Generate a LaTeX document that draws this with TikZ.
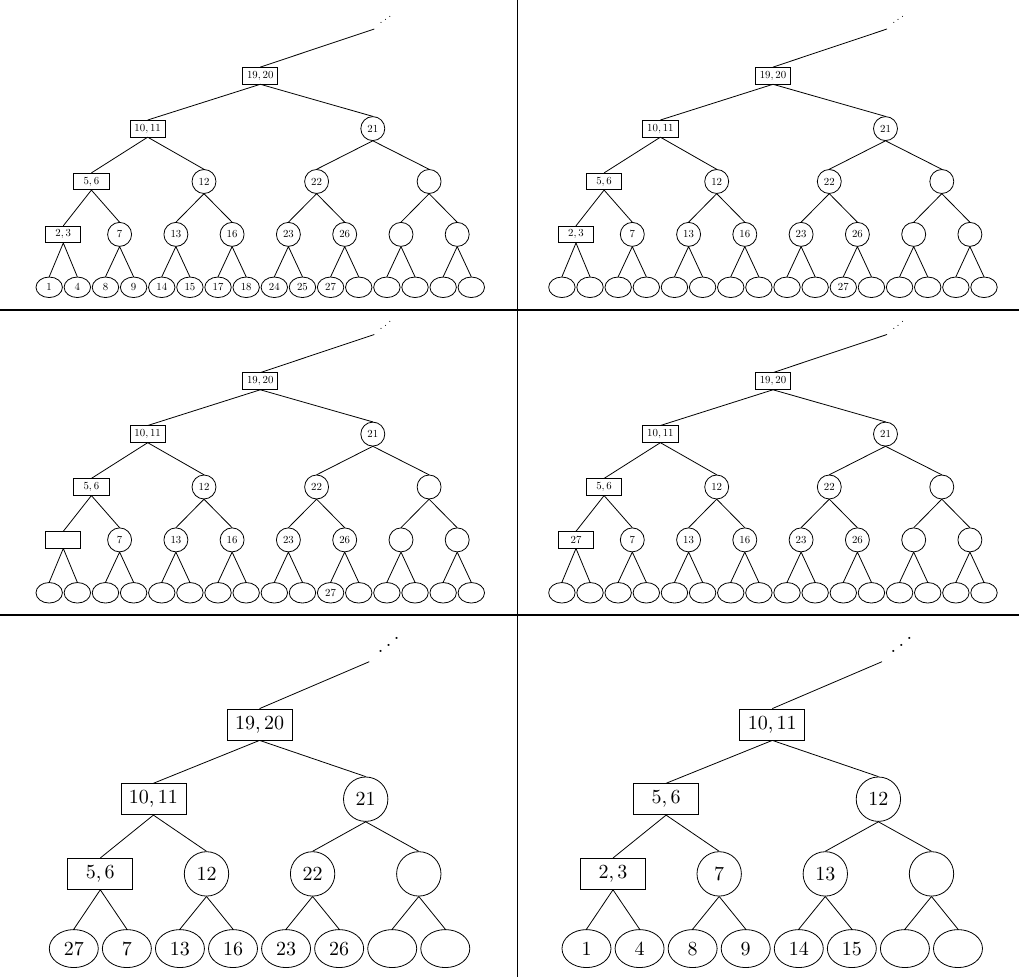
\documentclass[tikz,border=0pt]{standalone}
\usetikzlibrary{shapes.geometric}
\newcommand{\risedots}{.\kern0.12em\raisebox{0.31em}{.}\kern0.12em\raisebox{0.62em}{.}}
\begin{document}
\begin{tikzpicture}[x=0.5pt,y=-0.5pt,
		bbox/.style={draw, rectangle, minimum width=32.5pt, minimum height=15.5pt, inner sep=0pt},
		bcirc/.style={draw, circle, minimum size=22.2pt, inner sep=0pt},
		bleaf/.style={draw, ellipse, minimum width=24.5pt, minimum height=19pt, inner sep=0pt},
		bdots/.style={inner sep=0pt, anchor=base west},
		sbox/.style={bbox, scale=0.54},
		scirc/.style={bcirc, scale=0.54},
		sleaf/.style={bleaf, scale=0.54},
		sdots/.style={bdots, scale=0.54},
		panel/.style={line width=0.6pt}]
		\useasboundingbox (0,0) rectangle (1019,977);
		\draw[panel] (517.3,0) -- (517.3,977);
		\draw[panel] (0,310) -- (1019,310);
		\draw[panel] (0,615) -- (1019,615);

		% top left
		\begin{scope}
		\node[sbox] (tl1) at (260.3,75.7) {19,\,20};
		\node[sbox] (tl2) at (147.7,128.6) {10,\,11};
		\node[scirc] (tl3) at (372.8,128.6) {21};
		\node[sbox] (tl4) at (91.4,181.5) {5,\,6};
		\node[scirc] (tl5) at (204.0,181.5) {12};
		\node[scirc] (tl6) at (316.6,181.5) {22};
		\node[scirc] (tl7) at (429.1,181.5) {};
		\node[sbox] (tl8) at (63.3,234.4) {2,\,3};
		\node[scirc] (tl9) at (119.6,234.4) {7};
		\node[scirc] (tl10) at (175.9,234.4) {13};
		\node[scirc] (tl11) at (232.1,234.4) {16};
		\node[scirc] (tl12) at (288.4,234.4) {23};
		\node[scirc] (tl13) at (344.7,234.4) {26};
		\node[scirc] (tl14) at (401.0,234.4) {};
		\node[scirc] (tl15) at (457.2,234.4) {};
		\foreach \lab [count=\k from 0] in {1,4,8,9,14,15,17,18,24,25,27,{},{},{},{},{}}{
			\pgfmathtruncatemacro\idx{16+\k}
			\node[sleaf] (tl\idx) at ({49.2+28.14*\k},287.3) {\lab};
		}
		\coordinate (tle) at (374.3,29);
		\node[sdots] (tld) at (379.5,23.9) {\risedots};
		\draw (tl1.north) -- (tle);
		\end{scope}

		% top right
		\begin{scope}[shift={(512.7,0)}]
		\node[sbox] (tr1) at (260.3,75.7) {19,\,20};
		\node[sbox] (tr2) at (147.7,128.6) {10,\,11};
		\node[scirc] (tr3) at (372.8,128.6) {21};
		\node[sbox] (tr4) at (91.4,181.5) {5,\,6};
		\node[scirc] (tr5) at (204.0,181.5) {12};
		\node[scirc] (tr6) at (316.6,181.5) {22};
		\node[scirc] (tr7) at (429.1,181.5) {};
		\node[sbox] (tr8) at (63.3,234.4) {2,\,3};
		\node[scirc] (tr9) at (119.6,234.4) {7};
		\node[scirc] (tr10) at (175.9,234.4) {13};
		\node[scirc] (tr11) at (232.1,234.4) {16};
		\node[scirc] (tr12) at (288.4,234.4) {23};
		\node[scirc] (tr13) at (344.7,234.4) {26};
		\node[scirc] (tr14) at (401.0,234.4) {};
		\node[scirc] (tr15) at (457.2,234.4) {};
		\foreach \lab [count=\k from 0] in {{},{},{},{},{},{},{},{},{},{},27,{},{},{},{},{}}{
			\pgfmathtruncatemacro\idx{16+\k}
			\node[sleaf] (tr\idx) at ({49.2+28.14*\k},287.3) {\lab};
		}
		\coordinate (tre) at (374.3,29);
		\node[sdots] (trd) at (379.5,23.9) {\risedots};
		\draw (tr1.north) -- (tre);
		\end{scope}

		% middle left
		\begin{scope}[shift={(0,305.5)}]
		\node[sbox] (ml1) at (260.3,75.7) {19,\,20};
		\node[sbox] (ml2) at (147.7,128.6) {10,\,11};
		\node[scirc] (ml3) at (372.8,128.6) {21};
		\node[sbox] (ml4) at (91.4,181.5) {5,\,6};
		\node[scirc] (ml5) at (204.0,181.5) {12};
		\node[scirc] (ml6) at (316.6,181.5) {22};
		\node[scirc] (ml7) at (429.1,181.5) {};
		\node[sbox] (ml8) at (63.3,234.4) {};
		\node[scirc] (ml9) at (119.6,234.4) {7};
		\node[scirc] (ml10) at (175.9,234.4) {13};
		\node[scirc] (ml11) at (232.1,234.4) {16};
		\node[scirc] (ml12) at (288.4,234.4) {23};
		\node[scirc] (ml13) at (344.7,234.4) {26};
		\node[scirc] (ml14) at (401.0,234.4) {};
		\node[scirc] (ml15) at (457.2,234.4) {};
		\foreach \lab [count=\k from 0] in {{},{},{},{},{},{},{},{},{},{},27,{},{},{},{},{}}{
			\pgfmathtruncatemacro\idx{16+\k}
			\node[sleaf] (ml\idx) at ({49.2+28.14*\k},287.3) {\lab};
		}
		\coordinate (mle) at (374.3,29);
		\node[sdots] (mld) at (379.5,23.9) {\risedots};
		\draw (ml1.north) -- (mle);
		\end{scope}

		% middle right
		\begin{scope}[shift={(512.7,305.5)}]
		\node[sbox] (mr1) at (260.3,75.7) {19,\,20};
		\node[sbox] (mr2) at (147.7,128.6) {10,\,11};
		\node[scirc] (mr3) at (372.8,128.6) {21};
		\node[sbox] (mr4) at (91.4,181.5) {5,\,6};
		\node[scirc] (mr5) at (204.0,181.5) {12};
		\node[scirc] (mr6) at (316.6,181.5) {22};
		\node[scirc] (mr7) at (429.1,181.5) {};
		\node[sbox] (mr8) at (63.3,234.4) {27\hspace{7.4pt}};
		\node[scirc] (mr9) at (119.6,234.4) {7};
		\node[scirc] (mr10) at (175.9,234.4) {13};
		\node[scirc] (mr11) at (232.1,234.4) {16};
		\node[scirc] (mr12) at (288.4,234.4) {23};
		\node[scirc] (mr13) at (344.7,234.4) {26};
		\node[scirc] (mr14) at (401.0,234.4) {};
		\node[scirc] (mr15) at (457.2,234.4) {};
		\foreach \k in {0,...,15}{
			\pgfmathtruncatemacro\idx{16+\k}
			\node[sleaf] (mr\idx) at ({49.2+28.14*\k},287.3) {};
		}
		\coordinate (mre) at (374.3,29);
		\node[sdots] (mrd) at (379.5,23.9) {\risedots};
		\draw (mr1.north) -- (mre);
		\end{scope}

		\foreach \p in {tl,tr,ml,mr}
			\foreach \i in {1,...,15}{
				\pgfmathtruncatemacro\kl{2*\i}
				\pgfmathtruncatemacro\kr{2*\i+1}
				\draw (\p\i.south) -- (\p\kl.north) (\p\i.south) -- (\p\kr.north);
			}

		% bottom left
		\begin{scope}
		\node[bbox] (bl1) at (259.6,724.5) {19,\,20};
		\node[bbox] (bl2) at (153.4,799.2) {10,\,11};
		\node[bcirc] (bl3) at (365.7,799.2) {21};
		\node[bbox] (bl4) at (100.3,873.9) {5,\,6};
		\node[bcirc] (bl5) at (206.5,873.9) {12};
		\node[bcirc] (bl6) at (312.6,873.9) {22};
		\node[bcirc] (bl7) at (418.8,873.9) {};
		\foreach \lab [count=\k from 0] in {27,7,13,16,23,26,{},{}}{
			\pgfmathtruncatemacro\idx{8+\k}
			\node[bleaf] (bl\idx) at ({73.8+53.07*\k},948.6) {\lab};
		}
		\coordinate (ble) at (369.3,661.7);
		\node[bdots] (bld) at (377.5,652.3) {\risedots};
		\draw (bl1.north) -- (ble);
		\end{scope}

		% bottom right
		\begin{scope}[shift={(512.7,0)}]
		\node[bbox] (br1) at (259.6,724.5) {10,\,11};
		\node[bbox] (br2) at (153.4,799.2) {5,\,6};
		\node[bcirc] (br3) at (365.7,799.2) {12};
		\node[bbox] (br4) at (100.3,873.9) {2,\,3};
		\node[bcirc] (br5) at (206.5,873.9) {7};
		\node[bcirc] (br6) at (312.6,873.9) {13};
		\node[bcirc] (br7) at (418.8,873.9) {};
		\foreach \lab [count=\k from 0] in {1,4,8,9,14,15,{},{}}{
			\pgfmathtruncatemacro\idx{8+\k}
			\node[bleaf] (br\idx) at ({73.8+53.07*\k},948.6) {\lab};
		}
		\coordinate (bre) at (369.3,661.7);
		\node[bdots] (brd) at (377.5,652.3) {\risedots};
		\draw (br1.north) -- (bre);
		\end{scope}

		\foreach \p in {bl,br}
			\foreach \i in {1,...,7}{
				\pgfmathtruncatemacro\kl{2*\i}
				\pgfmathtruncatemacro\kr{2*\i+1}
				\draw (\p\i.south) -- (\p\kl.north) (\p\i.south) -- (\p\kr.north);
			}
\end{tikzpicture}
\end{document}
